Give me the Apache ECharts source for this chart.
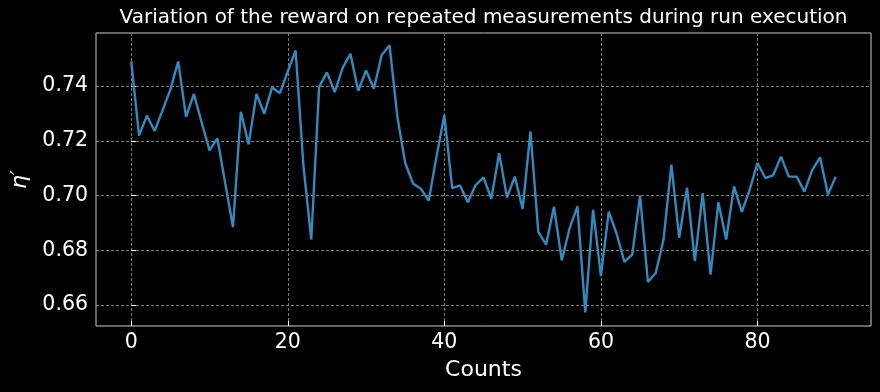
<!DOCTYPE html>
<html><head><meta charset="utf-8">
<script src="https://cdn.jsdelivr.net/npm/echarts@6/dist/echarts.min.js"></script>
<style>html,body{margin:0;padding:0;background:#000;}#c{width:880px;height:392px;}</style>
</head><body><div id="c"></div>
<script>
const counts = Array.from({length: 91}, (_, i) => i);
const reward = [
0.749,0.7219,0.7292,0.7236,0.7311,0.7387,0.749,0.7287,0.7371,0.7267,
0.7165,0.7209,0.7046,0.6885,0.7306,0.7187,0.7371,0.7299,0.7395,0.7374,
0.7454,0.753,0.7107,0.6839,0.7396,0.745,0.7378,0.7466,0.7518,0.7383,
0.7457,0.739,0.7514,0.7549,0.7287,0.7119,0.7044,0.7025,0.6981,0.7143,
0.7294,0.7027,0.7037,0.6975,0.7038,0.7066,0.6988,0.7155,0.6993,0.7069,
0.6951,0.7234,0.6867,0.682,0.6959,0.6763,0.688,0.696,0.6573,0.6948,
0.6705,0.6941,0.6861,0.6757,0.6784,0.7,0.6684,0.6717,0.6839,0.7113,
0.6845,0.7029,0.676,0.7009,0.6711,0.6975,0.6839,0.7033,0.694,0.7021,
0.7119,0.7064,0.7074,0.7142,0.7069,0.7069,0.7014,0.7094,0.7139,0.7004,
0.7069];
const xTicks = [0, 20, 40, 60, 80];
const yTicks = [0.66, 0.68, 0.70, 0.72, 0.74];
const titleText = 'Variation of the reward on repeated measurements during run execution';
const xName = 'Counts';
const yName = 'η′';

const chart = echarts.init(document.getElementById('c'), null, {renderer: 'canvas'});
const gridLine = {show: true, lineStyle: {color: '#999999', width: 0.8, type: [3, 2]}};
chart.setOption({
  backgroundColor: '#000000',
  animation: false,
  title: {
    text: titleText, left: 483.5, top: 8, textAlign: 'center', padding: 0,
    textStyle: {color: '#ffffff', fontFamily: 'DejaVu Sans', fontSize: 20, fontWeight: 'normal'}
  },
  grid: {left: 96, right: 9, top: 33, bottom: 66, show: true, borderColor: '#cccccc', borderWidth: 1,
    backgroundColor: 'transparent', outerBoundsMode: 'none', containLabel: false},
  xAxis: {
    type: 'value', min: -4.5, max: 94.5,
    name: xName, nameLocation: 'middle', nameGap: 33,
    nameTextStyle: {color: '#ffffff', fontFamily: 'DejaVu Sans', fontSize: 22},
    axisLine: {show: false},
    axisTick: {show: true, inside: true, customValues: xTicks, length: 5, lineStyle: {color: '#ffffff'}},
    axisLabel: {customValues: xTicks, color: '#ffffff', fontFamily: 'DejaVu Sans', fontSize: 20.5, margin: 6},
    splitLine: gridLine
  },
  yAxis: {
    type: 'value', min: 0.6523, max: 0.7594,
    name: yName, nameLocation: 'middle', nameGap: 64, nameRotate: 90,
    nameTextStyle: {color: '#ffffff', fontFamily: 'DejaVu Sans', fontSize: 22, fontStyle: 'italic'},
    axisLine: {show: false},
    axisTick: {show: true, inside: true, customValues: yTicks, length: 5, lineStyle: {color: '#ffffff'}},
    axisLabel: {customValues: yTicks, color: '#ffffff', fontFamily: 'DejaVu Sans', fontSize: 20.5, margin: 8,
      formatter: v => v.toFixed(2)},
    splitLine: gridLine
  },
  series: [{
    type: 'line', data: counts.map((c, i) => [c, reward[i]]),
    showSymbol: false, symbol: 'none',
    lineStyle: {color: '#348ABD', width: 2.4}
  }]
});
</script></body></html>
